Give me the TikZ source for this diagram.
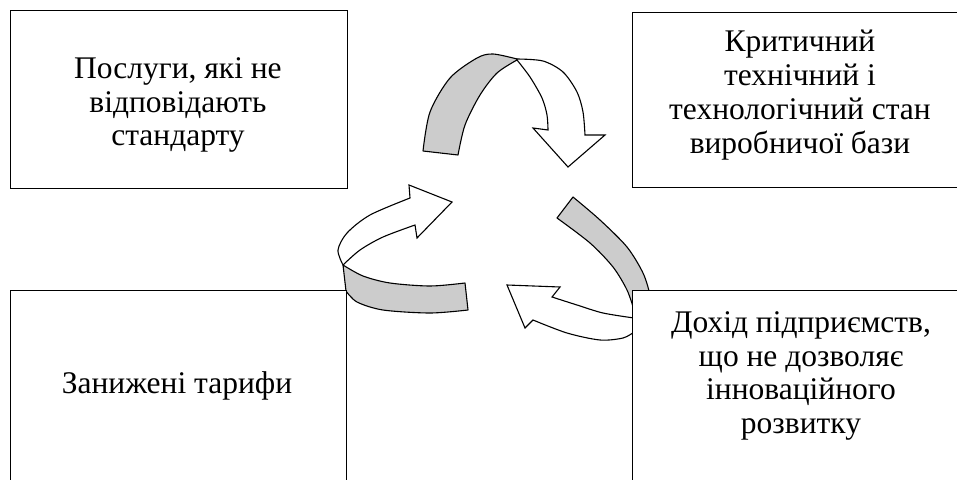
\documentclass[tikz,border=0pt]{standalone}
\usepackage{fontspec}
\setmainfont{Liberation Serif}
\definecolor{ribbon}{RGB}{204,204,204}
\begin{document}
\begin{tikzpicture}[x=1pt,y=-1pt,
  box/.style={draw=black, line width=1.2pt, fill=white, inner sep=0pt, anchor=north west},
  caption/.style={align=center, font=\fontsize{31.5}{33.8}\selectfont, inner sep=0pt},
  backside/.style={fill=ribbon, draw=black, line width=1.1pt, line join=round},
  frontside/.style={fill=white, draw=black, line width=1.1pt, line join=miter}]
\useasboundingbox (0,0) rectangle (957,479);
\clip (0,0) rectangle (957,479);

% upper ribbon arrow (turns down to the right)
\path[backside] plot[smooth] coordinates {(458,155) (465,125) (480,95) (497,73) (517,60)}
  -- plot[smooth] coordinates {(517,59) (493,54) (477,58) (450,78) (430,112) (423,151)} -- cycle;
\path[frontside] plot[smooth] coordinates {(517,59) (543,61) (563,72) (577,92) (583,112) (585,135)}
  -- (605,135) -- (568,167) -- (533,128)
  -- plot[smooth] coordinates {(548,130) (547,115) (542,98) (530,77) (517,60)} -- cycle;

% right ribbon arrow (turns back to the left)
\path[backside] plot[smooth] coordinates {(573,197) (600,220) (627,247) (643,273) (650,295) (652,312)}
  -- (640,316)
  -- plot[smooth] coordinates {(634,310) (627,290) (613,267) (590,243) (557,218)} -- cycle;
\path[frontside] (648,318) -- plot[smooth] coordinates {(634,318) (603,313) (577,305) (552,297)}
  -- (560,287) -- (507,285) -- (525,328)
  -- plot[smooth] coordinates {(533,320) (567,333) (600,340) (623,338) (634,332)} -- (648,332) -- cycle;

% left ribbon arrow (turns up to the right)
\path[backside] plot[smooth] coordinates {(343,265) (363,276) (390,283) (430,286) (465,283)}
  -- plot[smooth] coordinates {(468,310) (430,313) (383,310) (357,302) (346,291)} -- cycle;
\path[frontside] plot[smooth] coordinates {(343,265) (338,250) (347,233) (370,215) (410,198)}
  -- (409,185) -- (452,202) -- (417,238)
  -- plot[smooth] coordinates {(415,225) (383,237) (360,250) (343,265)} -- cycle;

% boxes
\node[box, minimum width=337pt, minimum height=178pt] (tl) at (10,10) {};
\node[box, minimum width=343pt, minimum height=175pt] (tr) at (632,12) {};
\node[box, minimum width=336pt, minimum height=210pt] (bl) at (10,290) {};
\node[box, minimum width=343pt, minimum height=210pt] (br) at (632,290) {};

% captions
\node[caption] (tltext) at (178,105) {Послуги, які не\\відповідають\\стандарту};
\node[caption] (trtext) at (800,95) {Критичний\\технічний і\\технологічний стан\\виробничої бази};
\node[caption] (bltext) at (177,386) {Занижені тарифи};
\node[caption] (brtext) at (801,376) {Дохід підприємств,\\що не дозволяє\\інноваційного\\розвитку};
\end{tikzpicture}
\end{document}
